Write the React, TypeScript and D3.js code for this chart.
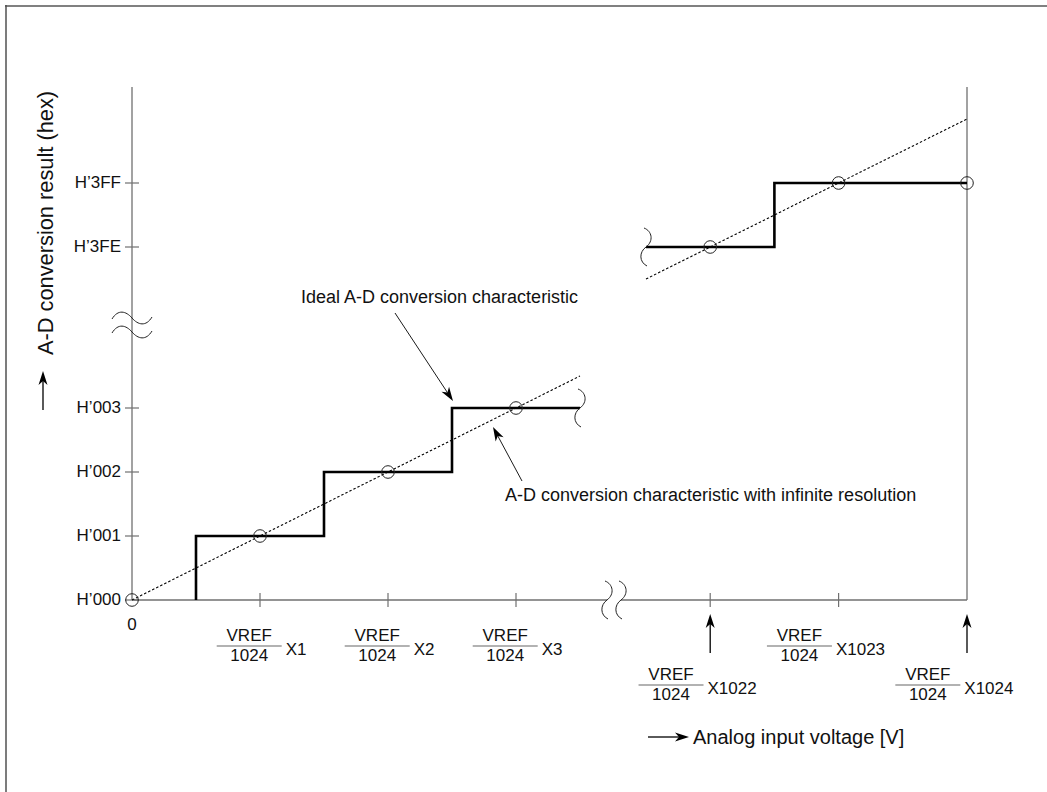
import React, { useEffect, useRef } from "react";
import * as d3 from "d3";

const W = 1047;
const H = 792;
const FONT = '"Liberation Sans", Arial, Helvetica, sans-serif';

// ---- data ----
const segmentDomain = [0, 3.5, 1021.5, 1024];
const yTickValues = [0, 1, 2, 3, 1022, 1023];
const yTickLabels = ["H’000", "H’001", "H’002", "H’003", "H’3FE", "H’3FF"];
const xTickValues = [1, 2, 3, 1022, 1023];
const xLabelCodes = [1, 2, 3, 1022, 1023, 1024];
const xLabelMultipliers = ["X1", "X2", "X3", "X1022", "X1023", "X1024"];
const arrowedCodes = [1022, 1024];
const lowerStepInputs = [0.5, 0.5, 1.5, 2.5, 3.5];
const lowerStepOutputs = [0, 1, 2, 3, 3];
const upperStepInputs = [1021.5, 1022.5, 1024];
const upperStepOutputs = [1022, 1023, 1023];
const sampleInputs = [0, 1, 2, 3, 1022, 1023, 1024];
const sampleOutputs = [0, 1, 2, 3, 1022, 1023, 1023];
const infiniteStarts = [0, 1021.5];
const infiniteEnds = [3.5, 1024];

const AXIS = "#707070";

export default function App() {
  const ref = useRef<SVGSVGElement | null>(null);

  useEffect(() => {
    const svg = d3.select(ref.current);
    svg.selectAll("*").remove();

    const x = d3.scaleLinear().domain(segmentDomain).range([132, 580, 646, 967]);
    const y = d3.scaleLinear().domain(segmentDomain).range([600, 376, 279, 119]);
    const axisTop = 87;
    const x0 = x(0);
    const y0 = y(0);
    const xEnd = x(1024);

    // frame
    svg.append("line").attr("x1", 5).attr("x2", W).attr("y1", 6).attr("y2", 6)
      .attr("stroke", "#808080").attr("stroke-width", 2);
    svg.append("line").attr("x1", 6).attr("x2", 6).attr("y1", 5).attr("y2", H)
      .attr("stroke", "#505050").attr("stroke-width", 1.5);

    const arrow = (x1: number, y1: number, x2: number, y2: number, L = 13, hw = 4.5, sw = 1) => {
      const dx = x2 - x1, dy = y2 - y1, len = Math.hypot(dx, dy);
      const ux = dx / len, uy = dy / len, px = -uy, py = ux;
      const bx = x2 - ux * L, by = y2 - uy * L;
      const nx = x2 - ux * L * 0.72, ny = y2 - uy * L * 0.72;
      svg.append("line").attr("x1", x1).attr("y1", y1).attr("x2", nx).attr("y2", ny)
        .attr("stroke", "#000").attr("stroke-width", sw);
      svg.append("path")
        .attr("d", `M${x2},${y2}L${bx + px * hw},${by + py * hw}L${nx},${ny}L${bx - px * hw},${by - py * hw}Z`)
        .attr("fill", "#000");
    };

    // axes
    svg.append("line").attr("x1", x0).attr("x2", x0).attr("y1", axisTop).attr("y2", y0)
      .attr("stroke", AXIS).attr("stroke-width", 1.3);
    svg.append("line").attr("x1", xEnd).attr("x2", xEnd).attr("y1", axisTop).attr("y2", y0)
      .attr("stroke", AXIS).attr("stroke-width", 1.3);
    const breakX = 614;
    svg.append("line").attr("x1", x0).attr("x2", breakX - 7).attr("y1", y0).attr("y2", y0)
      .attr("stroke", AXIS).attr("stroke-width", 1.3);
    svg.append("line").attr("x1", breakX + 7).attr("x2", xEnd).attr("y1", y0).attr("y2", y0)
      .attr("stroke", AXIS).attr("stroke-width", 1.3);

    // y ticks + labels
    yTickValues.forEach((v, i) => {
      const yy = y(v);
      svg.append("line").attr("x1", x0 - 7).attr("x2", x0 + 7).attr("y1", yy).attr("y2", yy)
        .attr("stroke", AXIS).attr("stroke-width", 1.2);
      svg.append("text").attr("x", 121).attr("y", yy + 5).attr("text-anchor", "end")
        .attr("font-family", FONT).attr("font-size", 17).attr("fill", "#111").text(yTickLabels[i]);
    });

    // x ticks
    xTickValues.forEach((v) => {
      const xx = x(v);
      svg.append("line").attr("x1", xx).attr("x2", xx).attr("y1", y0 - 7).attr("y2", y0 + 7)
        .attr("stroke", AXIS).attr("stroke-width", 1.2);
    });

    // y-axis break
    const tilde = "M-20,1C-14,-9 -6,-7 0,0C6,7 14,9 20,-1";
    [318, 332].forEach((yy) => {
      svg.append("path").attr("d", tilde).attr("transform", `translate(${x0},${yy})`)
        .attr("fill", "none").attr("stroke", "#222").attr("stroke-width", 1);
    });

    // vertical S squiggle
    const squiggle = "M-2,-19C6,-16 8,-6 0,0C-7,5 -7,15 1,19";
    [breakX - 7, breakX + 7].forEach((xx) => {
      svg.append("path").attr("d", squiggle).attr("transform", `translate(${xx},${y0})`)
        .attr("fill", "none").attr("stroke", "#222").attr("stroke-width", 1);
    });

    // infinite resolution (dotted)
    infiniteStarts.forEach((s, i) => {
      const e = infiniteEnds[i];
      svg.append("line").attr("x1", x(s)).attr("y1", y(s)).attr("x2", x(e)).attr("y2", y(e))
        .attr("stroke", "#000").attr("stroke-width", 1.1).attr("stroke-dasharray", "2.5,2");
    });

    // ideal steps
    const makeStep = (xs: number[], ys: number[]) =>
      d3.line<[number, number]>().x((d) => x(d[0])).y((d) => y(d[1])).curve(d3.curveStepAfter)(
        xs.map((v, i) => [v, ys[i]] as [number, number])
      );
    svg.append("path").attr("d", makeStep(lowerStepInputs, lowerStepOutputs) as string)
      .attr("fill", "none").attr("stroke", "#000").attr("stroke-width", 2.6);
    svg.append("path").attr("d", makeStep(upperStepInputs, upperStepOutputs) as string)
      .attr("fill", "none").attr("stroke", "#000").attr("stroke-width", 2.6);

    // squiggles at the ends of the step lines
    svg.append("path").attr("d", squiggle)
      .attr("transform", `translate(${x(lowerStepInputs[lowerStepInputs.length - 1])},${y(lowerStepOutputs[lowerStepOutputs.length - 1])})`)
      .attr("fill", "none").attr("stroke", "#222").attr("stroke-width", 1);
    svg.append("path").attr("d", squiggle)
      .attr("transform", `translate(${x(upperStepInputs[0])},${y(upperStepOutputs[0])})`)
      .attr("fill", "none").attr("stroke", "#222").attr("stroke-width", 1);

    // sample circles
    sampleInputs.forEach((v, i) => {
      svg.append("circle").attr("cx", x(v)).attr("cy", y(sampleOutputs[i])).attr("r", 6.3)
        .attr("fill", "none").attr("stroke", "#222").attr("stroke-width", 1);
    });

    // x labels
    svg.append("text").attr("x", x0).attr("y", 630).attr("text-anchor", "middle")
      .attr("font-family", FONT).attr("font-size", 17).attr("fill", "#111").text("0");

    xLabelCodes.forEach((c, i) => {
      const tx = x(c);
      const arrowed = arrowedCodes.includes(c);
      const base = arrowed ? 680 : 641;
      const t = svg.append("text").attr("x", tx + 46.5).attr("y", base + 14).attr("text-anchor", "end")
        .attr("font-family", FONT).attr("font-size", 17).attr("fill", "#111").text(xLabelMultipliers[i]);
      const w = (t.node() as SVGTextElement).getComputedTextLength();
      const lineRight = tx + 46.5 - w - 4;
      const lineLeft = lineRight - 65;
      const mid = (lineLeft + lineRight) / 2;
      svg.append("line").attr("x1", lineLeft).attr("x2", lineRight).attr("y1", base + 5).attr("y2", base + 5)
        .attr("stroke", "#666").attr("stroke-width", 1.2);
      svg.append("text").attr("x", mid).attr("y", base).attr("text-anchor", "middle")
        .attr("font-family", FONT).attr("font-size", 17).attr("fill", "#111").text("VREF");
      svg.append("text").attr("x", mid).attr("y", base + 20).attr("text-anchor", "middle")
        .attr("font-family", FONT).attr("font-size", 17).attr("fill", "#111").text("1024");
      if (arrowed) arrow(tx, 653, tx, 614, 14, 4.5, 1.3);
    });

    // axis titles
    svg.append("text").attr("transform", `translate(53,223) rotate(-90)`).attr("text-anchor", "middle")
      .attr("font-family", FONT).attr("font-size", 21.8).attr("fill", "#111").text("A-D conversion result (hex)");
    arrow(43, 410, 43, 371, 14, 4.5, 1.3);

    arrow(648, 737, 689, 737, 14, 4.5, 1.3);
    svg.append("text").attr("x", 693).attr("y", 744).attr("font-family", FONT).attr("font-size", 20)
      .attr("fill", "#111").text("Analog input voltage [V]");

    // annotations
    svg.append("text").attr("x", 301).attr("y", 303).attr("font-family", FONT).attr("font-size", 18)
      .attr("fill", "#111").text("Ideal A-D conversion characteristic");
    arrow(395, 313, 453, 401, 14, 4.5, 0.9);

    svg.append("text").attr("x", 505).attr("y", 501).attr("font-family", FONT).attr("font-size", 18)
      .attr("fill", "#111").text("A-D conversion characteristic with infinite resolution");
    arrow(522, 481, 493, 427, 14, 4.5, 0.9);
  }, []);

  return (
    <svg
      ref={ref}
      width={W}
      height={H}
      style={{ position: "absolute", left: 0, top: 0, background: "#fff" }}
    />
  );
}
